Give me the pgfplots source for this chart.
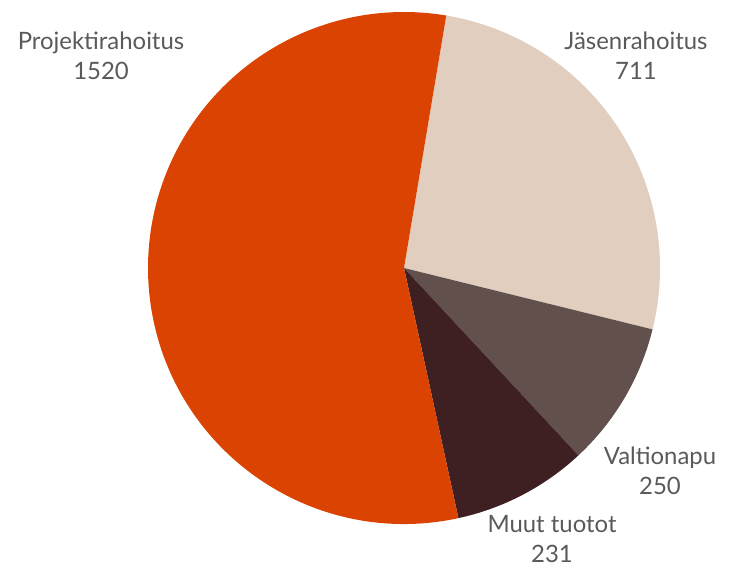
\documentclass[border=0pt]{standalone}
\usepackage{pgfplots}
\usepackage{pgfplotstable}
\pgfplotsset{compat=1.18}
\usepackage{fontspec}
\setmainfont{Lato}

\definecolor{cProj}{HTML}{DB4302}
\definecolor{cJas}{HTML}{E2CEBE}
\definecolor{cVal}{HTML}{62504D}
\definecolor{cMuut}{HTML}{3E2022}
\definecolor{labelgray}{HTML}{5A5A5A}

\pgfplotstableread{
value
1520
711
250
231
}\piedata

\begin{document}
\begin{tikzpicture}
\pgfplotstablegetelem{0}{value}\of\piedata \let\vProj\pgfplotsretval
\pgfplotstablegetelem{1}{value}\of\piedata \let\vJas\pgfplotsretval
\pgfplotstablegetelem{2}{value}\of\piedata \let\vVal\pgfplotsretval
\pgfplotstablegetelem{3}{value}\of\piedata \let\vMuut\pgfplotsretval
\pgfmathsetmacro\tot{\vProj+\vJas+\vVal+\vMuut}
% slices go clockwise from the top
\pgfmathsetmacro\aA{80.5}
\pgfmathsetmacro\aB{\aA-360*(\vJas/\tot)}
\pgfmathsetmacro\aC{\aB-360*(\vVal/\tot)}
\pgfmathsetmacro\aD{\aC-360*(\vMuut/\tot)}
\pgfmathsetmacro\aE{\aA-360}
\begin{axis}[
    width=736bp, height=568bp,
    scale only axis,
    xmin=0, xmax=736, ymin=0, ymax=568,
    hide axis,
    clip=false,
]
\path (axis cs:0,0) rectangle (axis cs:736,568);
\fill[cJas]  (axis cs:404,300) -- ++(\aA:256bp) arc[start angle=\aA, end angle=\aB, radius=256bp] -- cycle;
\fill[cVal]  (axis cs:404,300) -- ++(\aB:256bp) arc[start angle=\aB, end angle=\aC, radius=256bp] -- cycle;
\fill[cMuut] (axis cs:404,300) -- ++(\aC:256bp) arc[start angle=\aC, end angle=\aD, radius=256bp] -- cycle;
\fill[cProj] (axis cs:404,300) -- ++(\aD:256bp) arc[start angle=\aD, end angle=\aE, radius=256bp] -- cycle;

\tikzset{lbl/.style={text=labelgray, font=\fontsize{24}{30}\selectfont, align=center}}
\node[lbl] at (axis cs:101,512) {Projektirahoitus\\\vProj};
\node[lbl] at (axis cs:636,512) {Jäsenrahoitus\\\vJas};
\node[lbl] at (axis cs:660,97) {Valtionapu\\\vVal};
\node[lbl] at (axis cs:552,29) {Muut tuotot\\\vMuut};
\end{axis}
\end{tikzpicture}
\end{document}
